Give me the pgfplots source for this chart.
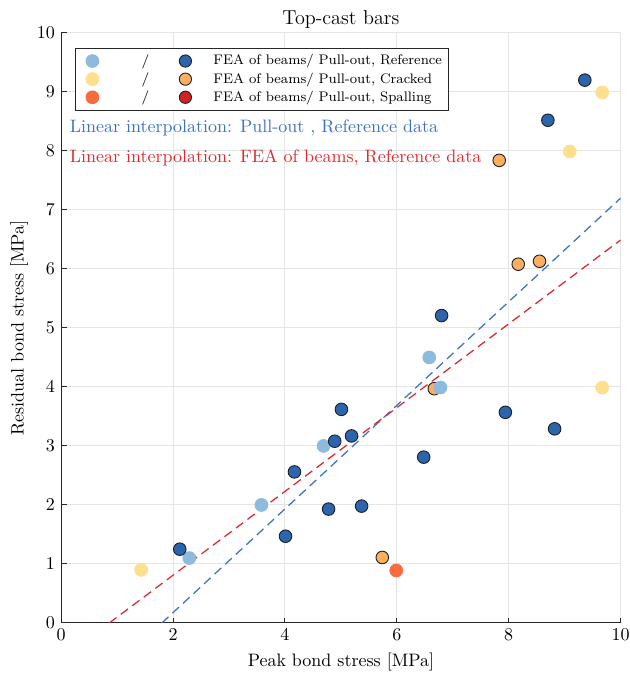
\documentclass[border=0pt]{standalone}
\usepackage{pgfplots}
\pgfplotsset{compat=1.18}
\definecolor{lblue}{HTML}{8CBBDD}
\definecolor{dblue}{HTML}{2A65AE}
\definecolor{lyel}{HTML}{FEDF8E}
\definecolor{orng}{HTML}{FDAE5E}
\definecolor{ored}{HTML}{FA6C3D}
\definecolor{dred}{HTML}{D42020}
\definecolor{lineblue}{HTML}{3A73C0}
\definecolor{linered}{HTML}{E0282C}
\definecolor{edge}{HTML}{1F1F1F}
\begin{document}
\begin{tikzpicture}
\begin{axis}[
  name=ax,
  scale only axis,
  width=311pt, height=328pt,
  xmin=0, xmax=10, ymin=0, ymax=10,
  xtick={0,2,...,10}, ytick={0,1,...,10},
  axis x line*=bottom, axis y line*=left,
  axis line style={draw=black!85, line width=0.6pt},
  tick style={draw=black!85, line width=0.6pt},
  major tick length=3pt,
  grid=major,
  grid style={draw=black!10, line width=0.6pt},
  xlabel={Peak bond stress [MPa]},
  ylabel={Residual bond stress [MPa]},
  ylabel style={yshift=-2pt},
  title={Top-cast bars},
  title style={at={(0.5,1)}, anchor=base, yshift=-1.6pt, font=\fontsize{11.2}{13}\selectfont},
  legend cell align=left,
  legend style={at={(rel axis cs:0.025,0.975)}, anchor=north west,
    draw=black!85, line width=0.6pt, font=\fontsize{7.7}{9}\selectfont, row sep=-1.2pt,
    inner sep=1.5pt},
]
% lines
\addplot[forget plot, lineblue, line width=0.7pt, dash pattern=on 5pt off 3pt] coordinates {(1.8,0) (10,7.2)};
\addplot[forget plot, linered, line width=0.7pt, dash pattern=on 5pt off 3pt] coordinates {(0.86,0) (10,6.49)};
% FEA cracked
\addplot[forget plot, only marks, mark=*, mark size=3.5pt, mark options={fill=orng, draw=edge, line width=0.5pt}] coordinates {
(7.83,7.84) (8.17,6.08) (8.55,6.13) (6.67,3.97) (5.74,1.11)};
% Pull-out reference
\addplot[forget plot, only marks, mark=*, mark size=3.6pt, color=lblue] coordinates {
(2.29,1.10) (3.58,2.0) (4.69,3.0) (6.58,4.5) (6.78,3.99)};
% Pull-out cracked
\addplot[forget plot, only marks, mark=*, mark size=3.6pt, color=lyel] coordinates {
(1.43,0.9) (9.09,7.99) (9.67,8.99) (9.67,3.99)};
% Pull-out spalling
\addplot[forget plot, only marks, mark=*, mark size=3.6pt, color=ored] coordinates {
(5.99,0.89)};
% FEA reference
\addplot[only marks, mark=*, mark size=3.5pt, mark options={fill=dblue, draw=edge, line width=0.5pt},
  legend image code/.code={
    \path (-7.5pt,0pt);
    \fill[lblue] (0pt,0pt) circle (3.5pt);
    \node[font=\footnotesize, inner sep=0pt] at (27pt,0pt) {/};
    \draw[fill=dblue, draw=edge, line width=0.5pt] (51.7pt,0pt) circle (3.4pt);
    \path (65pt,0pt);
  }] coordinates {
(2.12,1.25) (4.01,1.47) (4.17,2.56) (4.78,1.93) (4.89,3.08) (5.01,3.62) (5.19,3.17)
(5.37,1.98) (6.48,2.81) (6.80,5.21) (7.94,3.57) (8.82,3.29) (8.70,8.52) (9.36,9.20)};
\addlegendentry{FEA of beams/ Pull-out, Reference}
\addlegendimage{legend image code/.code={
    \path (-7.5pt,0pt);
    \fill[lyel] (0pt,0pt) circle (3.5pt);
    \node[font=\footnotesize, inner sep=0pt] at (27pt,0pt) {/};
    \draw[fill=orng, draw=edge, line width=0.5pt] (51.7pt,0pt) circle (3.4pt);
    \path (65pt,0pt);
  }}
\addlegendentry{FEA of beams/ Pull-out, Cracked}
\addlegendimage{legend image code/.code={
    \path (-7.5pt,0pt);
    \fill[ored] (0pt,0pt) circle (3.5pt);
    \node[font=\footnotesize, inner sep=0pt] at (27pt,0pt) {/};
    \draw[fill=dred, draw=edge, line width=0.5pt] (51.7pt,0pt) circle (3.4pt);
    \path (65pt,0pt);
  }}
\addlegendentry{FEA of beams/ Pull-out, Spalling}
\node[anchor=west, text=lineblue, inner sep=0pt] at (axis cs:0.15,8.39) {Linear interpolation: Pull-out , Reference data};
\node[anchor=west, text=linered, inner sep=0pt] at (axis cs:0.15,7.88) {Linear interpolation: FEA of beams, Reference data};
\end{axis}
\pgfresetboundingbox
\path[use as bounding box] ([xshift=-34pt,yshift=-30.6pt]ax.south west) rectangle ([xshift=5pt,yshift=18.3pt]ax.north east);
\end{tikzpicture}
\end{document}
